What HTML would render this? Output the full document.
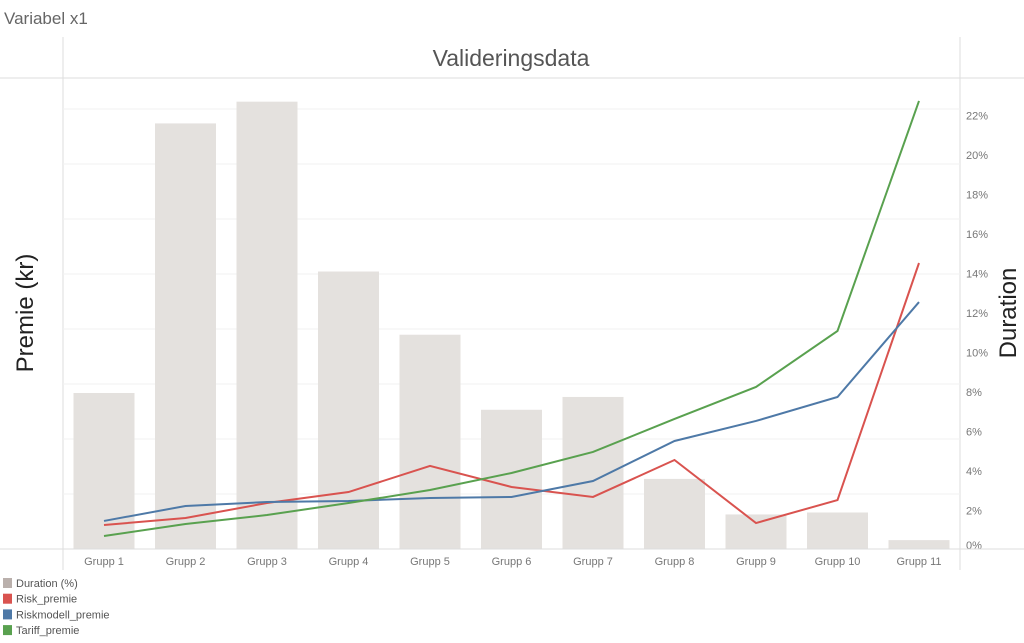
<!DOCTYPE html>
<html><head><meta charset="utf-8"><style>
body{margin:0;background:#fff;font-family:"Liberation Sans",sans-serif;}
svg text{font-family:"Liberation Sans",sans-serif;}
</style></head><body>
<svg width="1024" height="638" xmlns="http://www.w3.org/2000/svg">
<text x="4" y="24" font-size="17" fill="#666">Variabel x1</text>
<line x1="0" y1="78" x2="1024" y2="78" stroke="#ddd"/>
<line x1="63" y1="37" x2="63" y2="570" stroke="#ddd"/>
<line x1="960" y1="37" x2="960" y2="570" stroke="#ddd"/>
<text x="511" y="66" font-size="23" fill="#555" text-anchor="middle">Valideringsdata</text>
<text transform="translate(33,313) rotate(-90)" font-size="24" fill="#222" text-anchor="middle">Premie (kr)</text>
<text transform="translate(1016,313) rotate(-90)" font-size="24" fill="#222" text-anchor="middle">Duration</text>
<g id="grid"></g><g id="bars"></g><g id="lines"></g><g id="axes"></g>
<line x1="0" y1="549" x2="1024" y2="549" stroke="#ddd"/>
<g id="legend"></g>
</svg>
<script>
const categories=["Grupp 1","Grupp 2","Grupp 3","Grupp 4","Grupp 5","Grupp 6","Grupp 7","Grupp 8","Grupp 9","Grupp 10","Grupp 11"];
const duration=[7.95,21.6,22.7,14.1,10.9,7.1,7.75,3.6,1.8,1.9,0.5];
const riskPremie=[218,282,418,518,755,564,473,809,236,445,2600];
const riskmodellPremie=[255,391,427,436,464,473,618,982,1164,1382,2245];
const tariffPremie=[118,227,309,418,536,691,882,1182,1473,1982,4073];
const pctTicks=[0,2,4,6,8,10,12,14,16,18,20,22];
const premieGrid=[500,1000,1500,2000,2500,3000,3500,4000];
const NS="http://www.w3.org/2000/svg";
const x=i=>104+i*81.5;
const yPct=v=>550-v*19.75;
const yPrem=v=>549-v/500*55;
function mk(tag,attrs,parent){const e=document.createElementNS(NS,tag);for(const k in attrs)e.setAttribute(k,attrs[k]);document.getElementById(parent).appendChild(e);return e;}
premieGrid.forEach(v=>{const l=mk('line',{x1:63,x2:960,y1:yPrem(v),y2:yPrem(v),stroke:'#f2f2f2'},'grid');

});
duration.forEach((d,i)=>{const r=mk('rect',{x:x(i)-30.5,y:yPct(d),width:61,height:549-yPct(d),fill:'#e4e1de'},'bars');

});
[[riskPremie,'#d9534f','risk-premie-line'],[riskmodellPremie,'#4e79a7','riskmodell-premie-line'],[tariffPremie,'#59a14f','tariff-premie-line']].forEach(([s,c,n])=>{
const p=mk('polyline',{points:s.map((v,i)=>x(i)+','+yPrem(v)).join(' '),fill:'none',stroke:c,'stroke-width':2},'lines');

});
categories.forEach((c,i)=>{const t=mk('text',{x:x(i),y:565,'font-size':11,fill:'#777','text-anchor':'middle'},'axes');t.textContent=c;

});
pctTicks.forEach(v=>{const yy=v===0?Math.min(yPct(v),545):yPct(v);const t=mk('text',{x:966,y:yy+4,'font-size':11,fill:'#777'},'axes');t.textContent=v+'%';

});
const leg=[['Duration (%)','#bab0ac'],['Risk_premie','#d9534f'],['Riskmodell_premie','#4e79a7'],['Tariff_premie','#59a14f']];
leg.forEach(([l,c],i)=>{const cy=583+i*15.7;
const r=mk('rect',{x:3,y:cy-5,width:9,height:10,fill:c},'legend');


const t=mk('text',{x:16,y:cy+4,'font-size':11,fill:'#555'},'legend');t.textContent=l;

});
</script>
</body></html>
